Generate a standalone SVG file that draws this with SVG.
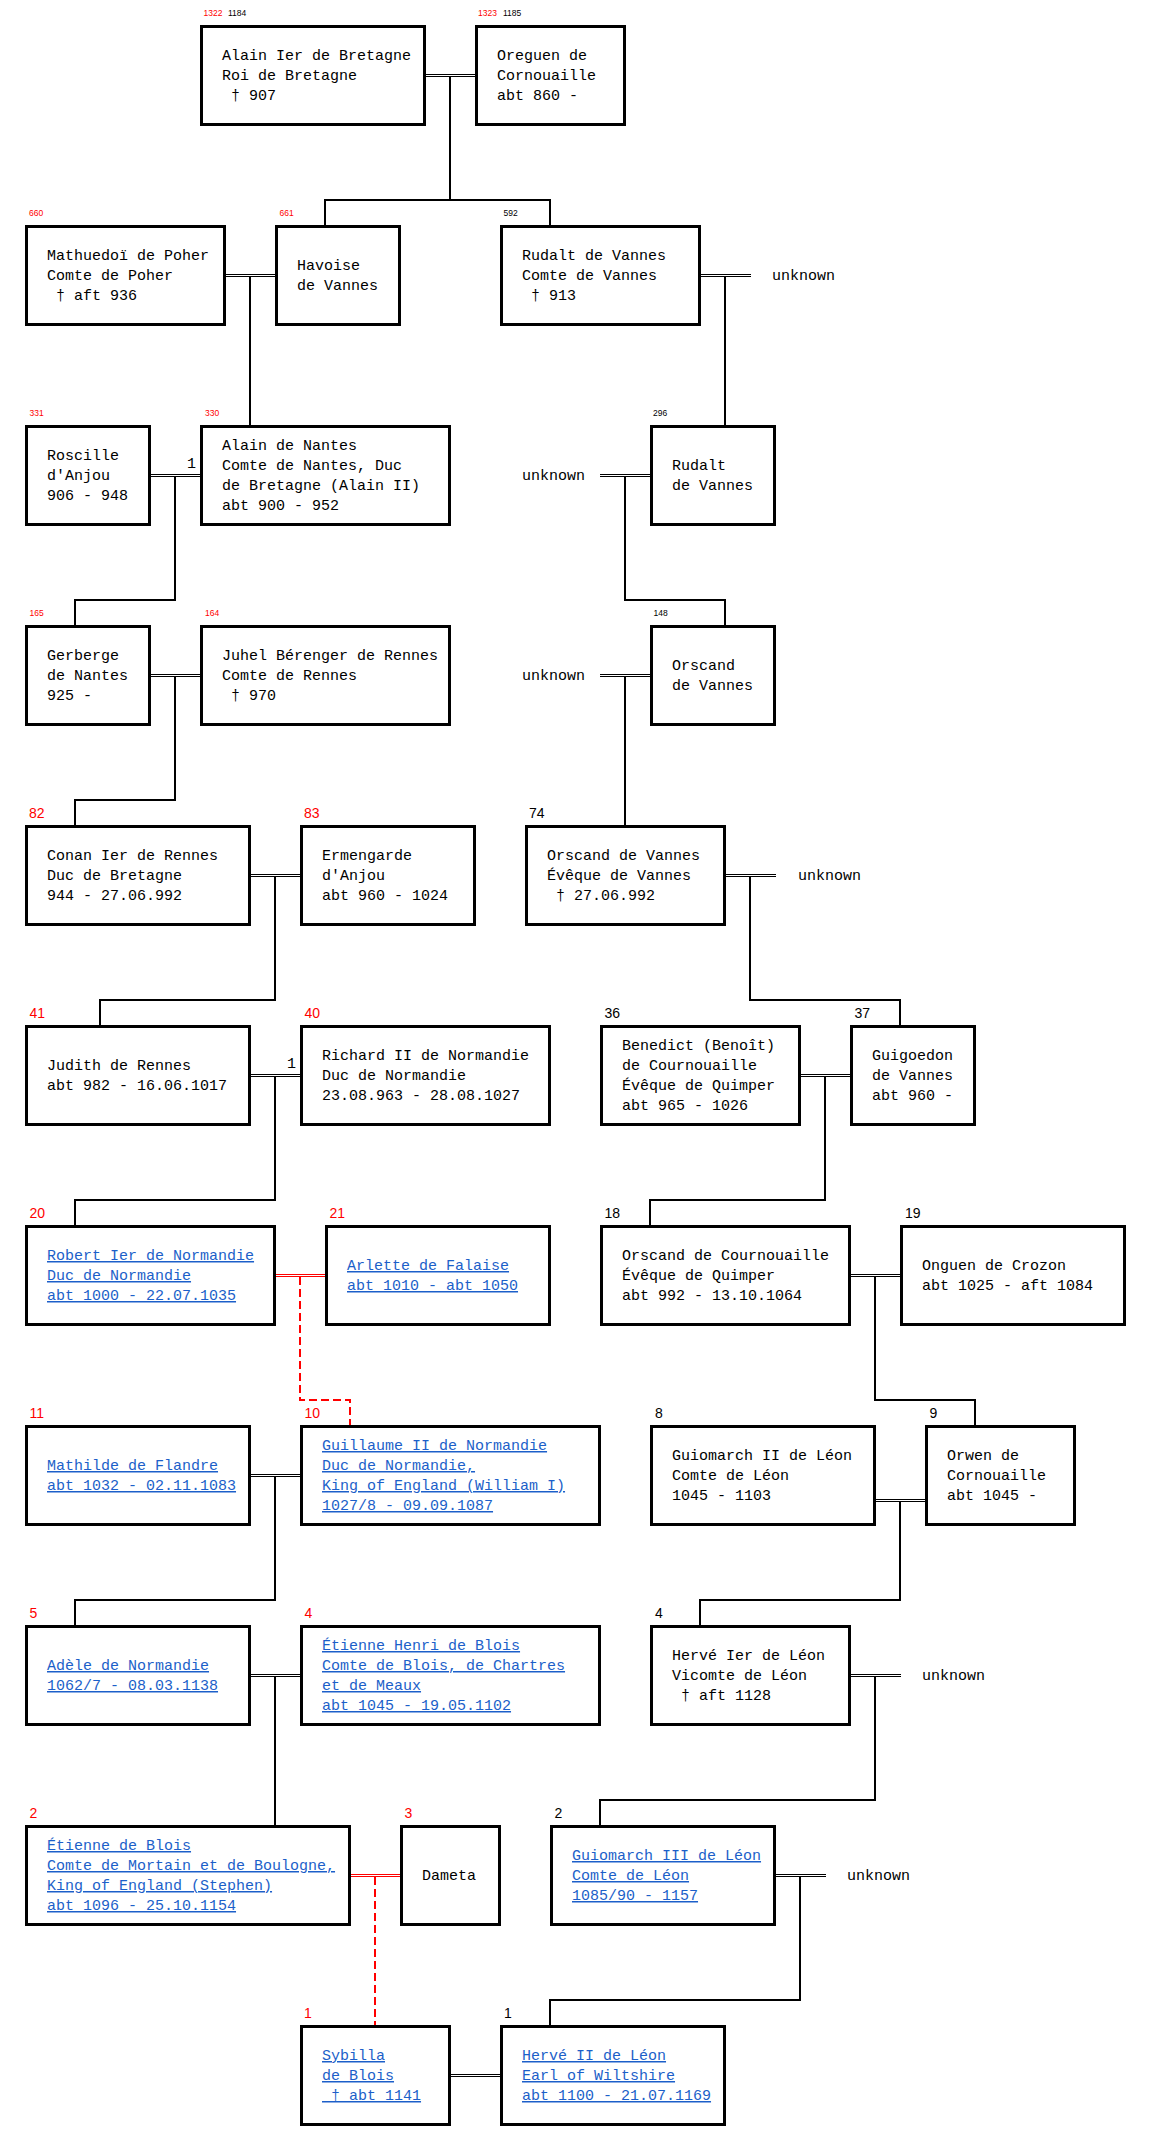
<svg xmlns="http://www.w3.org/2000/svg" width="1151" height="2151" viewBox="0 0 1151 2151">
<style>
.bg{fill:#fff}
.box{fill:#fff;stroke:#000;stroke-width:3}
.t{font-family:"Liberation Mono","Courier New",monospace;font-size:15px;fill:#000;white-space:pre}
.lk{fill:#1c5fc9;text-decoration:underline}
.n{font-family:"Liberation Sans",Arial,sans-serif;font-size:14px;fill:#000}
.s{font-size:8.5px}
.r{fill:#ff0000}
.dbl{stroke:#000;stroke-width:1;fill:none}
.dblr{stroke:#ff0000;stroke-width:1;fill:none}
.ln{stroke:#000;stroke-width:2;fill:none}
.rd{stroke:#ff0000;stroke-width:2;stroke-dasharray:8 4;fill:none}
</style>
<rect class="bg" x="0" y="0" width="1151" height="2151"/>

<g id="connectors">
  <!-- spouse double lines -->
  <path class="dbl" d="M426,74.5H475M426,76.5H475"/>
  <path class="dbl" d="M226,274.5H275M226,276.5H275"/>
  <path class="dbl" d="M701,274.5H751M701,276.5H751"/>
  <path class="dbl" d="M151,474.5H200M151,476.5H200"/>
  <path class="dbl" d="M600,474.5H650M600,476.5H650"/>
  <path class="dbl" d="M151,674.5H200M151,676.5H200"/>
  <path class="dbl" d="M600,674.5H650M600,676.5H650"/>
  <path class="dbl" d="M251,874.5H300M251,876.5H300"/>
  <path class="dbl" d="M726,874.5H776M726,876.5H776"/>
  <path class="dbl" d="M251,1074.5H300M251,1076.5H300"/>
  <path class="dbl" d="M801,1074.5H850M801,1076.5H850"/>
  <path class="dblr" d="M276,1274.5H325M276,1276.5H325"/>
  <path class="dbl" d="M851,1274.5H900M851,1276.5H900"/>
  <path class="dbl" d="M251,1474.5H300M251,1476.5H300"/>
  <path class="dbl" d="M876,1499.5H925M876,1501.5H925"/>
  <path class="dbl" d="M251,1674.5H300M251,1676.5H300"/>
  <path class="dbl" d="M851,1674.5H901M851,1676.5H901"/>
  <path class="dblr" d="M351,1874.5H400M351,1876.5H400"/>
  <path class="dbl" d="M776,1874.5H826M776,1876.5H826"/>
  <path class="dbl" d="M451,2074.5H500M451,2076.5H500"/>
  <!-- descent lines -->
  <path class="ln" d="M450,77V200M325,225V200H550V225"/>
  <path class="ln" d="M250,277V425"/>
  <path class="ln" d="M725,277V425"/>
  <path class="ln" d="M175,477V600H75V625"/>
  <path class="ln" d="M625,477V600H725V625"/>
  <path class="ln" d="M175,677V800H75V825"/>
  <path class="ln" d="M625,677V825"/>
  <path class="ln" d="M275,877V1000H100V1025"/>
  <path class="ln" d="M750,877V1000H900V1025"/>
  <path class="ln" d="M275,1077V1200H75V1225"/>
  <path class="ln" d="M825,1077V1200H650V1225"/>
  <path class="rd" d="M300,1277V1400H350V1425"/>
  <path class="ln" d="M875,1277V1400H975V1425"/>
  <path class="ln" d="M275,1477V1600H75V1625"/>
  <path class="ln" d="M900,1502V1600H700V1625"/>
  <path class="ln" d="M275,1677V1825"/>
  <path class="ln" d="M875,1677V1800H600V1825"/>
  <path class="rd" d="M375,1877V2025"/>
  <path class="ln" d="M800,1877V2000H550V2025"/>
  <!-- marriage numbers and unknown partners -->
  <text class="t" x="187" y="468">1</text>
  <text class="t" x="287" y="1068">1</text>
  <text class="t" x="772" y="280">unknown</text>
  <text class="t" x="522" y="480">unknown</text>
  <text class="t" x="522" y="680">unknown</text>
  <text class="t" x="798" y="880">unknown</text>
  <text class="t" x="922" y="1680">unknown</text>
  <text class="t" x="847" y="1880">unknown</text>
</g>

<!-- Row 0 -->
<g id="n1322">
  <rect class="box" x="201.5" y="26.5" width="223" height="98"/>
  <text class="n s r" x="203.5" y="16">1322</text>
  <text class="n s" x="228" y="16">1184</text>
  <text class="t" x="222" y="60">Alain Ier de Bretagne</text>
  <text class="t" x="222" y="80">Roi de Bretagne</text>
  <text class="t" x="222" y="100"> † 907</text>
</g>
<g id="n1323">
  <rect class="box" x="476.5" y="26.5" width="148" height="98"/>
  <text class="n s r" x="478" y="16">1323</text>
  <text class="n s" x="503" y="16">1185</text>
  <text class="t" x="497" y="60">Oreguen de</text>
  <text class="t" x="497" y="80">Cornouaille</text>
  <text class="t" x="497" y="100">abt 860 -</text>
</g>

<!-- Row 1 -->
<g id="n660">
  <rect class="box" x="26.5" y="226.5" width="198" height="98"/>
  <text class="n s r" x="29" y="216">660</text>
  <text class="t" x="47" y="260">Mathuedoï de Poher</text>
  <text class="t" x="47" y="280">Comte de Poher</text>
  <text class="t" x="47" y="300"> † aft 936</text>
</g>
<g id="n661">
  <rect class="box" x="276.5" y="226.5" width="123" height="98"/>
  <text class="n s r" x="279.5" y="216">661</text>
  <text class="t" x="297" y="270">Havoise</text>
  <text class="t" x="297" y="290">de Vannes</text>
</g>
<g id="n592">
  <rect class="box" x="501.5" y="226.5" width="198" height="98"/>
  <text class="n s" x="503.5" y="216">592</text>
  <text class="t" x="522" y="260">Rudalt de Vannes</text>
  <text class="t" x="522" y="280">Comte de Vannes</text>
  <text class="t" x="522" y="300"> † 913</text>
</g>

<!-- Row 2 -->
<g id="n331">
  <rect class="box" x="26.5" y="426.5" width="123" height="98"/>
  <text class="n s r" x="29.5" y="416">331</text>
  <text class="t" x="47" y="460">Roscille</text>
  <text class="t" x="47" y="480">d'Anjou</text>
  <text class="t" x="47" y="500">906 - 948</text>
</g>
<g id="n330">
  <rect class="box" x="201.5" y="426.5" width="248" height="98"/>
  <text class="n s r" x="205" y="416">330</text>
  <text class="t" x="222" y="450">Alain de Nantes</text>
  <text class="t" x="222" y="470">Comte de Nantes, Duc</text>
  <text class="t" x="222" y="490">de Bretagne (Alain II)</text>
  <text class="t" x="222" y="510">abt 900 - 952</text>
</g>
<g id="n296">
  <rect class="box" x="651.5" y="426.5" width="123" height="98"/>
  <text class="n s" x="653" y="416">296</text>
  <text class="t" x="672" y="470">Rudalt</text>
  <text class="t" x="672" y="490">de Vannes</text>
</g>

<!-- Row 3 -->
<g id="n165">
  <rect class="box" x="26.5" y="626.5" width="123" height="98"/>
  <text class="n s r" x="29.5" y="616">165</text>
  <text class="t" x="47" y="660">Gerberge</text>
  <text class="t" x="47" y="680">de Nantes</text>
  <text class="t" x="47" y="700">925 -</text>
</g>
<g id="n164">
  <rect class="box" x="201.5" y="626.5" width="248" height="98"/>
  <text class="n s r" x="205" y="616">164</text>
  <text class="t" x="222" y="660">Juhel Bérenger de Rennes</text>
  <text class="t" x="222" y="680">Comte de Rennes</text>
  <text class="t" x="222" y="700"> † 970</text>
</g>
<g id="n148">
  <rect class="box" x="651.5" y="626.5" width="123" height="98"/>
  <text class="n s" x="653.5" y="616">148</text>
  <text class="t" x="672" y="670">Orscand</text>
  <text class="t" x="672" y="690">de Vannes</text>
</g>

<!-- Row 4 -->
<g id="n82">
  <rect class="box" x="26.5" y="826.5" width="223" height="98"/>
  <text class="n r" x="29" y="818">82</text>
  <text class="t" x="47" y="860">Conan Ier de Rennes</text>
  <text class="t" x="47" y="880">Duc de Bretagne</text>
  <text class="t" x="47" y="900">944 - 27.06.992</text>
</g>
<g id="n83">
  <rect class="box" x="301.5" y="826.5" width="173" height="98"/>
  <text class="n r" x="304" y="818">83</text>
  <text class="t" x="322" y="860">Ermengarde</text>
  <text class="t" x="322" y="880">d'Anjou</text>
  <text class="t" x="322" y="900">abt 960 - 1024</text>
</g>
<g id="n74">
  <rect class="box" x="526.5" y="826.5" width="198" height="98"/>
  <text class="n" x="529" y="818">74</text>
  <text class="t" x="547" y="860">Orscand de Vannes</text>
  <text class="t" x="547" y="880">Évêque de Vannes</text>
  <text class="t" x="547" y="900"> † 27.06.992</text>
</g>

<!-- Row 5 -->
<g id="n41">
  <rect class="box" x="26.5" y="1026.5" width="223" height="98"/>
  <text class="n r" x="29.5" y="1018">41</text>
  <text class="t" x="47" y="1070">Judith de Rennes</text>
  <text class="t" x="47" y="1090">abt 982 - 16.06.1017</text>
</g>
<g id="n40">
  <rect class="box" x="301.5" y="1026.5" width="248" height="98"/>
  <text class="n r" x="304.5" y="1018">40</text>
  <text class="t" x="322" y="1060">Richard II de Normandie</text>
  <text class="t" x="322" y="1080">Duc de Normandie</text>
  <text class="t" x="322" y="1100">23.08.963 - 28.08.1027</text>
</g>
<g id="n36">
  <rect class="box" x="601.5" y="1026.5" width="198" height="98"/>
  <text class="n" x="604.5" y="1018">36</text>
  <text class="t" x="622" y="1050">Benedict (Benoît)</text>
  <text class="t" x="622" y="1070">de Cournouaille</text>
  <text class="t" x="622" y="1090">Évêque de Quimper</text>
  <text class="t" x="622" y="1110">abt 965 - 1026</text>
</g>
<g id="n37">
  <rect class="box" x="851.5" y="1026.5" width="123" height="98"/>
  <text class="n" x="854.5" y="1018">37</text>
  <text class="t" x="872" y="1060">Guigoedon</text>
  <text class="t" x="872" y="1080">de Vannes</text>
  <text class="t" x="872" y="1100">abt 960 -</text>
</g>

<!-- Row 6 -->
<g id="n20">
  <rect class="box" x="26.5" y="1226.5" width="248" height="98"/>
  <text class="n r" x="29.5" y="1218">20</text>
  <text class="t lk" x="47" y="1260">Robert Ier de Normandie</text>
  <text class="t lk" x="47" y="1280">Duc de Normandie</text>
  <text class="t lk" x="47" y="1300">abt 1000 - 22.07.1035</text>
</g>
<g id="n21">
  <rect class="box" x="326.5" y="1226.5" width="223" height="98"/>
  <text class="n r" x="329.5" y="1218">21</text>
  <text class="t lk" x="347" y="1270">Arlette de Falaise</text>
  <text class="t lk" x="347" y="1290">abt 1010 - abt 1050</text>
</g>
<g id="n18">
  <rect class="box" x="601.5" y="1226.5" width="248" height="98"/>
  <text class="n" x="604.5" y="1218">18</text>
  <text class="t" x="622" y="1260">Orscand de Cournouaille</text>
  <text class="t" x="622" y="1280">Évêque de Quimper</text>
  <text class="t" x="622" y="1300">abt 992 - 13.10.1064</text>
</g>
<g id="n19">
  <rect class="box" x="901.5" y="1226.5" width="223" height="98"/>
  <text class="n" x="905" y="1218">19</text>
  <text class="t" x="922" y="1270">Onguen de Crozon</text>
  <text class="t" x="922" y="1290">abt 1025 - aft 1084</text>
</g>

<!-- Row 7 -->
<g id="n11">
  <rect class="box" x="26.5" y="1426.5" width="223" height="98"/>
  <text class="n r" x="29.5" y="1418">11</text>
  <text class="t lk" x="47" y="1470">Mathilde de Flandre</text>
  <text class="t lk" x="47" y="1490">abt 1032 - 02.11.1083</text>
</g>
<g id="n10">
  <rect class="box" x="301.5" y="1426.5" width="298" height="98"/>
  <text class="n r" x="304.5" y="1418">10</text>
  <text class="t lk" x="322" y="1450">Guillaume II de Normandie</text>
  <text class="t lk" x="322" y="1470">Duc de Normandie,</text>
  <text class="t lk" x="322" y="1490">King of England (William I)</text>
  <text class="t lk" x="322" y="1510">1027/8 - 09.09.1087</text>
</g>
<g id="n8">
  <rect class="box" x="651.5" y="1426.5" width="223" height="98"/>
  <text class="n" x="655" y="1418">8</text>
  <text class="t" x="672" y="1460">Guiomarch II de Léon</text>
  <text class="t" x="672" y="1480">Comte de Léon</text>
  <text class="t" x="672" y="1500">1045 - 1103</text>
</g>
<g id="n9">
  <rect class="box" x="926.5" y="1426.5" width="148" height="98"/>
  <text class="n" x="929.5" y="1418">9</text>
  <text class="t" x="947" y="1460">Orwen de</text>
  <text class="t" x="947" y="1480">Cornouaille</text>
  <text class="t" x="947" y="1500">abt 1045 -</text>
</g>

<!-- Row 8 -->
<g id="n5">
  <rect class="box" x="26.5" y="1626.5" width="223" height="98"/>
  <text class="n r" x="29.5" y="1618">5</text>
  <text class="t lk" x="47" y="1670">Adèle de Normandie</text>
  <text class="t lk" x="47" y="1690">1062/7 - 08.03.1138</text>
</g>
<g id="n4a">
  <rect class="box" x="301.5" y="1626.5" width="298" height="98"/>
  <text class="n r" x="304.5" y="1618">4</text>
  <text class="t lk" x="322" y="1650">Étienne Henri de Blois</text>
  <text class="t lk" x="322" y="1670">Comte de Blois, de Chartres</text>
  <text class="t lk" x="322" y="1690">et de Meaux</text>
  <text class="t lk" x="322" y="1710">abt 1045 - 19.05.1102</text>
</g>
<g id="n4b">
  <rect class="box" x="651.5" y="1626.5" width="198" height="98"/>
  <text class="n" x="655" y="1618">4</text>
  <text class="t" x="672" y="1660">Hervé Ier de Léon</text>
  <text class="t" x="672" y="1680">Vicomte de Léon</text>
  <text class="t" x="672" y="1700"> † aft 1128</text>
</g>

<!-- Row 9 -->
<g id="n2a">
  <rect class="box" x="26.5" y="1826.5" width="323" height="98"/>
  <text class="n r" x="29.5" y="1818">2</text>
  <text class="t lk" x="47" y="1850">Étienne de Blois</text>
  <text class="t lk" x="47" y="1870">Comte de Mortain et de Boulogne,</text>
  <text class="t lk" x="47" y="1890">King of England (Stephen)</text>
  <text class="t lk" x="47" y="1910">abt 1096 - 25.10.1154</text>
</g>
<g id="n3">
  <rect class="box" x="401.5" y="1826.5" width="98" height="98"/>
  <text class="n r" x="404.5" y="1818">3</text>
  <text class="t" x="422" y="1880">Dameta</text>
</g>
<g id="n2b">
  <rect class="box" x="551.5" y="1826.5" width="223" height="98"/>
  <text class="n" x="554.5" y="1818">2</text>
  <text class="t lk" x="572" y="1860">Guiomarch III de Léon</text>
  <text class="t lk" x="572" y="1880">Comte de Léon</text>
  <text class="t lk" x="572" y="1900">1085/90 - 1157</text>
</g>

<!-- Row 10 -->
<g id="n1a">
  <rect class="box" x="301.5" y="2026.5" width="148" height="98"/>
  <text class="n r" x="304" y="2018">1</text>
  <text class="t lk" x="322" y="2060">Sybilla</text>
  <text class="t lk" x="322" y="2080">de Blois</text>
  <text class="t lk" x="322" y="2100"> † abt 1141</text>
</g>
<g id="n1b">
  <rect class="box" x="501.5" y="2026.5" width="223" height="98"/>
  <text class="n" x="504" y="2018">1</text>
  <text class="t lk" x="522" y="2060">Hervé II de Léon</text>
  <text class="t lk" x="522" y="2080">Earl of Wiltshire</text>
  <text class="t lk" x="522" y="2100">abt 1100 - 21.07.1169</text>
</g>
</svg>
